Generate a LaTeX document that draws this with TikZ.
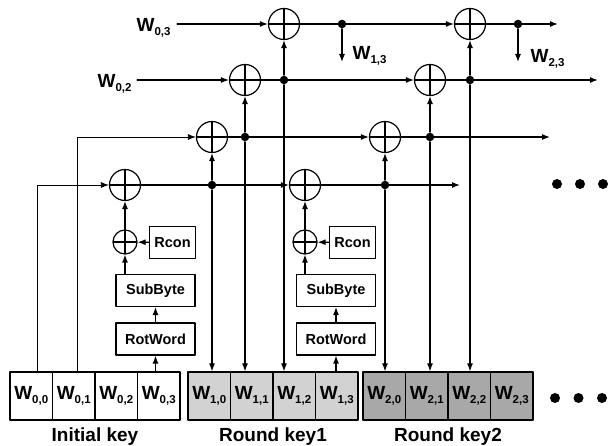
\documentclass[tikz,border=0pt]{standalone}
\usepackage{fontspec}
\setmainfont{Liberation Sans}
\usetikzlibrary{arrows.meta}
\newcommand{\wrd}[1]{W\raisebox{-3.5pt}{\fontsize{11.5}{12}\selectfont#1}}
\tikzset{
	xorop/.style={circle, draw, inner sep=0pt, minimum size=#1,
		path picture={\draw (path picture bounding box.north)--(path picture bounding box.south)
			(path picture bounding box.west)--(path picture bounding box.east);}},
	xorop/.default=31pt,
	keybox/.style={draw, inner sep=0pt, minimum width=42.5pt, minimum height=48pt, font=\bfseries\fontsize{19}{20}\selectfont},
	funbox/.style={draw, inner sep=0pt, minimum width=79pt, minimum height=32pt, font=\bfseries\fontsize{14.5}{16}\selectfont},
	wlabel/.style={inner sep=0pt, anchor=base west, font=\bfseries\fontsize{19}{20}\selectfont},
	jdot/.style={circle, fill, inner sep=0pt, minimum size=8.5pt}
}
\begin{document}
\begin{tikzpicture}[line join = round, line cap = round, >={Latex[length=8pt,width=6pt]}, x=1pt, y=-1pt, line width=1.2pt]
	\useasboundingbox (0,0) rectangle (611,446);
	%Tung độ các hàng
	\def\ya{24} \def\yb{80} \def\yc{137} \def\yd{185}
	%Các ô khóa
	\foreach \k/\x/\fil/\lbl in {0/10/white/Initial key, 1/188/gray!35/Round key1, 2/363/gray!68/Round key2}{
		\foreach \j in {0,...,3}
			\node[keybox, fill=\fil] (k\k\j) at ({\x+21.25+42.5*\j},396) {\wrd{\k,\j}};
		\node[font=\bfseries\fontsize{19}{20}\selectfont, inner sep=0pt] (lab\k) at (\x+85,437) {\lbl};
	}
	%Các phép XOR và điểm rẽ nhánh
	\foreach \n/\pd/\pc/\pb/\pa/\po in {1/125/212/245/284/342, 2/305/385/430/470/518}{
		\node[xorop] (xd\n) at (\pd,\yd) {};
		\node[xorop] (xc\n) at (\pc,\yc) {};
		\node[xorop] (xb\n) at (\pb,\yb) {};
		\node[xorop] (xa\n) at (\pa,\ya) {};
		\node[jdot] (dd\n) at (\pc,\yd) {};
		\node[jdot] (dc\n) at (\pb,\yc) {};
		\node[jdot] (db\n) at (\pa,\yb) {};
		\node[jdot] (da\n) at (\po,\ya) {};
		\coordinate (oa\n) at (\po,62);
	}
	%Hàm g
	\foreach \n/\pd/\pf/\k in {1/125/155.5/0, 2/305/336/1}{
		\node[funbox] (rw\n) at (\pf,339) {RotWord};
		\node[funbox] (sb\n) at (\pf,290.5) {SubByte};
		\node[xorop=24pt] (rx\n) at (\pd,242) {};
		\node[funbox, minimum width=46pt] (rc\n) at (\pd+47.5,242.5) {Rcon};
		\draw[->] (rw\n |- k\k3.north) -- (rw\n);
		\draw[->] (rw\n) -- (sb\n);
		\draw[->] (rx\n |- sb\n.north) -- (rx\n);
		\draw[->] (rc\n) -- (rx\n);
		\draw[->] (rx\n) -- (xd\n);
	}
	%Đầu vào của khóa ban đầu
	\node[wlabel] (w02) at (97,88) {\wrd{0,2}};
	\node[wlabel] (w03) at (136,32) {\wrd{0,3}};
	\draw[->, line width=.8pt] ([xshift=6pt]k00.north) |- (xd1);
	\draw[->, line width=.8pt] ([xshift=4pt]k01.north) |- (xc1);
	\draw[->] ([xshift=5pt]w02.east |- xb1) -- (xb1);
	\draw[->] ([xshift=6pt]w03.east |- xa1) -- (xa1);
	%Các hàng đi sang vòng sau
	\coordinate (ea) at (558,\ya); \coordinate (eb) at (598,\yb);
	\coordinate (ec) at (550,\yc); \coordinate (ed) at (460,\yd);
	\foreach \r in {a,b,c,d}{
		\draw[->] (x\r1) -- (x\r2);
		\draw[->] (x\r2) -- (e\r);
	}
	%Các nhánh dọc
	\foreach \n in {1,2}{
		\draw[->] (dd\n) -- (xc\n);
		\draw[->] (dd\n) -- (dd\n |- k\n0.north);
		\draw[->] (dc\n) -- (xb\n);
		\draw[->] (dc\n) -- (dc\n |- k\n1.north);
		\draw[->] (db\n) -- (xa\n);
		\draw[->] (db\n) -- (db\n |- k\n2.north);
		\draw[->] (da\n) -- (oa\n);
	}
	\node[wlabel] (w13) at (352,60) {\wrd{1,3}};
	\node[wlabel] (w23) at (530,63) {\wrd{2,3}};
	%Dấu ba chấm
	\foreach \i in {0,1,2}{
		\node[jdot, minimum size=10pt] (mu\i) at (557+23*\i,184) {};
		\node[jdot, minimum size=10pt] (ml\i) at (555+23.5*\i,398) {};
	}
\end{tikzpicture}
\end{document}
